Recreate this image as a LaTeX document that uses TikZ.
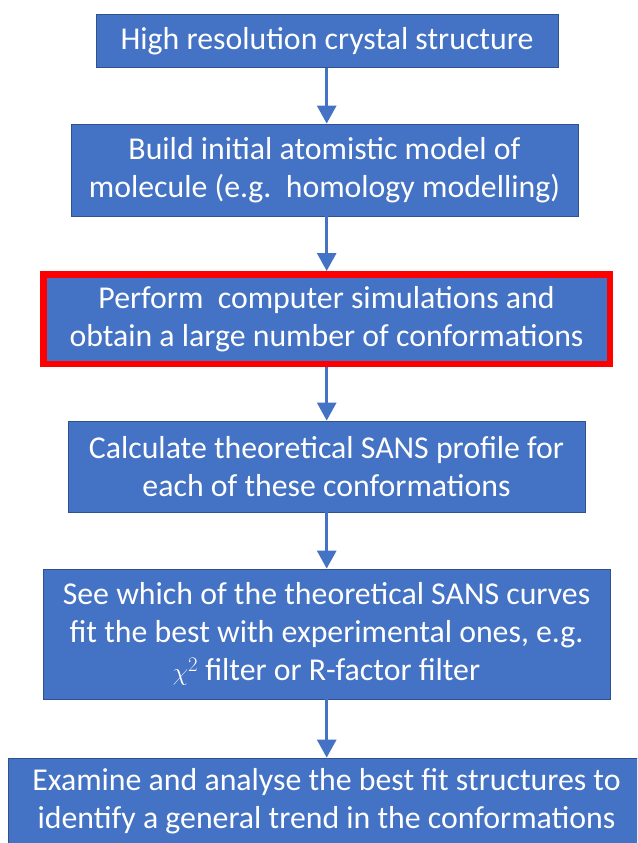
\documentclass[tikz,border=0pt]{standalone}
\usepackage{fontspec}
\setmainfont{Carlito}
\usetikzlibrary{arrows.meta}
\definecolor{boxblue}{HTML}{4472C4}
\definecolor{boxedge}{HTML}{2F528F}
\definecolor{hired}{HTML}{FF0000}
\begin{document}
\begin{tikzpicture}[x=1pt,y=-1pt,
  stepbox/.style={draw=boxedge, line width=0.8pt, fill=boxblue, text=white,
    align=center, font=\fontsize{31.8}{38}\selectfont, inner sep=0pt},
  redbox/.style={stepbox, draw=hired, line width=6.5pt},
  flow/.style={draw=boxblue, line width=3pt, -{Triangle[width=19pt,length=18pt]}}]
\useasboundingbox (0,0) rectangle (637,843);
\clip (0,0) rectangle (637,843);
\coordinate (ax) at (326.7,0);
\node[stepbox, minimum width=462pt, minimum height=53pt] (b1) at (327,41.2)
  {High resolution crystal structure};
\node[stepbox, minimum width=507pt, minimum height=92pt] (b2) at (324.5,170)
  {Build initial atomistic model of\\molecule (e.g.\ \ homology modelling)};
\node[redbox, minimum width=566.5pt, minimum height=89.5pt] (b3) at (326.5,319)
  {Perform\ \ computer simulations and\\obtain a large number of conformations};
\node[stepbox, minimum width=517pt, minimum height=91pt] (b4) at (326.5,466.5)
  {Calculate theoretical SANS profile for\\each of these conformations};
\node[stepbox, minimum width=567pt, minimum height=130pt] (b5) at (326.5,634)
  {See which of the theoretical SANS curves\\fit the best with experimental ones, e.g.\\$\chi^{2}$ filter or R-factor filter};
\node[stepbox, minimum width=637pt, minimum height=86pt] (b6) at (326.5,801)
  {Examine and analyse the best fit structures to\\identify a general trend in the conformations};
\draw[flow] (b1.south -| ax) -- (b2.north -| ax);
\draw[flow] (b2.south -| ax) -- (b3.north -| ax);
\draw[flow] (b3.south -| ax) -- (b4.north -| ax);
\draw[flow] (b4.south -| ax) -- (b5.north -| ax);
\draw[flow] (b5.south -| ax) -- (b6.north -| ax);
\end{tikzpicture}
\end{document}
